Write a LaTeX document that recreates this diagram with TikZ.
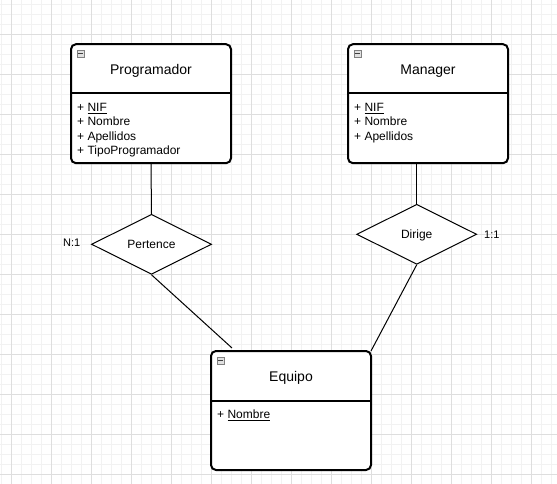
\documentclass[tikz,border=0pt]{standalone}
\usepackage{fontspec}
\setmainfont{Liberation Sans}
\usetikzlibrary{shapes.geometric}
\begin{document}
\begin{tikzpicture}[x=1pt,y=-1pt,
  entity/.style={draw,line width=2pt,rounded corners=5pt,minimum width=160pt,minimum height=119pt,inner sep=0pt,fill=white},
  sepline/.style={line width=2pt},
  rel/.style={draw,diamond,fill=white,minimum width=120pt,minimum height=60pt,inner sep=0pt,line width=1pt,font=\fontsize{12}{14}\selectfont,text height=7.6pt,text depth=0pt},
  conn/.style={line width=1pt},
  title/.style={anchor=base,font=\fontsize{14}{16}\selectfont,inner sep=0pt},
  attr/.style={anchor=base west,font=\fontsize{12}{14}\selectfont,inner sep=0pt},
  card/.style={anchor=base west,font=\fontsize{11}{13}\selectfont,inner sep=0pt},
  icon/.style={draw=black!50,fill=black!12,line width=0.8pt,minimum size=7pt,inner sep=0pt},
  minorgrid/.style={black!5,line width=1pt},
  majorgrid/.style={black!13,line width=1pt}
]
\useasboundingbox (0,0) rectangle (557,484);
\fill[white] (0,0) rectangle (557,484);
% grid
\foreach \x in {1.7,11.7,...,557} \draw[minorgrid] (\x,0) -- (\x,484);
\foreach \y in {4.3,14.3,...,484} \draw[minorgrid] (0,\y) -- (557,\y);
\foreach \x in {11.7,51.7,...,557} \draw[majorgrid] (\x,0) -- (\x,484);
\foreach \y in {34.3,74.3,...,484} \draw[majorgrid] (0,\y) -- (557,\y);

% Programador
\node[entity] (prog) at (151,103.7) {};
\draw[sepline] (71,93.5) -- (231,93.5);
\node[icon] (progicon) at (80.5,53.5) {};
\draw[black!75,line width=1pt] ([xshift=1.5pt]progicon.west) -- ([xshift=-1.5pt]progicon.east);
\node[title] (progtitle) at (151,74.3) {Programador};
\node[attr] (p1) at (77,111.7) {+ \underline{NIF}};
\node[attr] (p2) at (77,126) {+ Nombre};
\node[attr] (p3) at (77,140.3) {+ Apellidos};
\node[attr] (p4) at (77,154.7) {+ TipoProgramador};

% Manager
\node[entity] (man) at (428,103.7) {};
\draw[sepline] (348,93.5) -- (508,93.5);
\node[icon] (manicon) at (357.5,53.5) {};
\draw[black!75,line width=1pt] ([xshift=1.5pt]manicon.west) -- ([xshift=-1.5pt]manicon.east);
\node[title] (mantitle) at (428,74.3) {Manager};
\node[attr] (m1) at (354,111.7) {+ \underline{NIF}};
\node[attr] (m2) at (354,126) {+ Nombre};
\node[attr] (m3) at (354,140.3) {+ Apellidos};

% Equipo
\node[entity] (eq) at (291,410.5) {};
\draw[sepline] (211,401) -- (371,401);
\node[icon] (eqicon) at (220.5,360.5) {};
\draw[black!75,line width=1pt] ([xshift=1.5pt]eqicon.west) -- ([xshift=-1.5pt]eqicon.east);
\node[title] (eqtitle) at (291,381) {Equipo};
\node[attr] (e1) at (217,418.8) {+ \underline{Nombre}};

% Relationships
\node[rel] (pert) at (151.5,244.3) {Pertence};
\node[rel] (dir) at (416.7,234.3) {Dirige};
\node[card] (n1) at (63,246) {N:1};
\node[card] (c11) at (484,238.3) {1:1};

% Connectors
\coordinate (eqA) at (232,348);
\coordinate (eqB) at (371,351);
\draw[conn] (prog.south) -- (pert.north);
\draw[conn] (pert.south) -- (eqA);
\draw[conn] (dir.north) -- (dir.north |- man.south);
\draw[conn] (dir.south) -- (eqB);
\end{tikzpicture}
\end{document}
